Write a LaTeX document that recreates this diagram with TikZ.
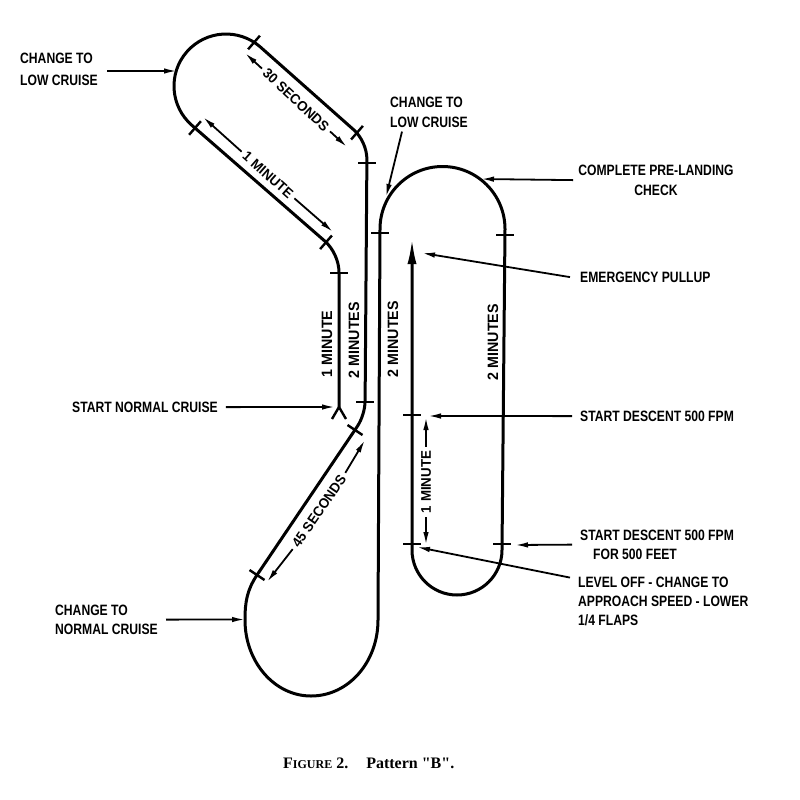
\documentclass[tikz,border=0pt]{standalone}
\usepackage{fontspec}
\setmainfont{Liberation Sans}[FakeStretch=0.81]
\newfontfamily\dimfont{Liberation Sans}[FakeStretch=0.95]
\newfontfamily\capfont{Liberation Serif}
\usetikzlibrary{arrows.meta}
\begin{document}
\begin{tikzpicture}[x=1pt,y=-1pt,
  mainline/.style={line width=3pt, line join=round},
  tickln/.style={line width=2.4pt},
  ptr/.style={line width=1.8pt,-{Latex[length=13pt,width=5.5pt]}},
  dimarr/.style={line width=1.8pt,-{Latex[length=13pt,width=5.5pt]}},
  lbl/.style={inner sep=0pt, align=left, anchor=north west},
  dimlbl/.style={font=\dimfont\bfseries\fontsize{15}{17}\selectfont, inner sep=4pt},
  diaglbl/.style={font=\dimfont\bfseries\fontsize{14}{16}\selectfont, inner sep=4pt},
]
\fill[white] (0,0) rectangle (800,800);
\useasboundingbox (0,0) rectangle (800,800);

% ---------- flight path ----------
\draw[mainline,-{Latex[length=26pt,width=9pt]}]
  (339,407) -- (339,272.5)
  .. controls (339,261.1) and (333.3,248.5) .. (324.7,241)
  -- (191.8,125.2)
  arc[start angle=131.1, end angle=311.1, radius=52]
  -- (353.5,129.6)
  .. controls (361.6,136.8) and (367,148.8) .. (366.9,159.6)
  -- (365.1,401)
  .. controls (365,409.4) and (361.9,419.6) .. (357.2,426.6)
  -- (257,575)
  .. controls (247,590) and (245,602) .. (245,620)
  .. controls (245,662) and (274.5,696) .. (311,696)
  .. controls (348.6,696) and (378,662) .. (378,620)
  -- (380,229) arc[start angle=180, end angle=360, radius=62.5]
  -- (502,550) arc[start angle=0, end angle=180, radius=45]
  -- (412,238);

% start fork
\draw[tickln] (332,419) -- (339,407) -- (346,419);

% ---------- ticks ----------
\draw[tickln] (248.1,49.3) -- (259.9,35.7);
\draw[tickln] (351.1,139.5) -- (362.9,125.9);
\draw[tickln] (358,163) -- (376,163);
\draw[tickln] (189.1,134.8) -- (200.9,121.2);
\draw[tickln] (320.1,249.1) -- (331.9,235.5);
\draw[tickln] (330,273) -- (348,273);
\draw[tickln] (356,402) -- (374,402);
\draw[tickln] (347.5,425) -- (362.5,435);
\draw[tickln] (249.5,570) -- (264.5,580);
\draw[tickln] (371,233) -- (389,233);
\draw[tickln] (496,235) -- (514,235);
\draw[tickln] (403,415) -- (421,415);
\draw[tickln] (403,544) -- (421,544);
\draw[tickln] (493,544) -- (511,544);

% ---------- timing dimensions ----------
\node[diaglbl, rotate=-42.7] (d30) at (296,100) {30 SECONDS};
\coordinate (d30a) at (245,53);
\coordinate (d30b) at (347,147);
\draw[dimarr] (d30.west) -- (d30a);
\draw[dimarr] (d30.east) -- (d30b);

\node[diaglbl, rotate=-41.5] (d1m) at (268,175) {1 MINUTE};
\coordinate (d1ma) at (203,117);
\coordinate (d1mb) at (333,232);
\draw[dimarr] (d1m.west) -- (d1ma);
\draw[dimarr] (d1m.east) -- (d1mb);

\node[diaglbl, rotate=55.4] (d45) at (319,511) {45 SECONDS};
\coordinate (d45a) at (267,582);
\coordinate (d45b) at (365,440);
\draw[dimarr] (d45.west) -- (d45a);
\draw[dimarr] (d45.east) -- (d45b);

\node[diaglbl, rotate=90] (dv1) at (426,482) {1 MINUTE};
\coordinate (dv1a) at (426,545);
\coordinate (dv1b) at (426,417);
\draw[dimarr] (dv1.west) -- (dv1a);
\draw[dimarr] (dv1.east) -- (dv1b);

\node[dimlbl, rotate=90] (v1) at (327,344) {1 MINUTE};
\node[dimlbl, rotate=90] (v2) at (354,340) {2 MINUTES};
\node[dimlbl, rotate=90] (v3) at (393,339) {2 MINUTES};
\node[dimlbl, rotate=90] (v4) at (493,342) {2 MINUTES};

% ---------- call-outs ----------
\node[lbl, font=\bfseries\fontsize{15}{22}\selectfont] (l1) at (20,52.6) {CHANGE TO\\LOW CRUISE};
\coordinate (t1) at (177,71);
\draw[ptr] ([xshift=9pt]l1.east |- t1) -- (t1);

\node[lbl, font=\bfseries\fontsize{15}{20}\selectfont] (l2) at (390,96.6) {CHANGE TO\\LOW CRUISE};
\coordinate (t2) at (386,197);
\draw[ptr] ([xshift=12pt,yshift=-4pt]l2.south west) -- (t2);

\node[lbl, anchor=north, align=center, font=\bfseries\fontsize{15}{20}\selectfont] (l3) at (656,164.6) {COMPLETE PRE-LANDING\\CHECK};
\coordinate (t3) at (481,179);
\draw[ptr] ([xshift=-5pt]l3.west) -- (t3);

\node[lbl, font=\bfseries\fontsize{15}{20}\selectfont] (l4) at (580,271.6) {EMERGENCY PULLUP};
\coordinate (t4) at (422,253);
\draw[ptr] ([xshift=-10pt]l4.west) -- (t4);

\node[lbl, font=\bfseries\fontsize{15}{20}\selectfont] (l5) at (72,401.6) {START NORMAL CRUISE};
\coordinate (t5) at (335,407);
\draw[ptr] ([xshift=8pt]l5.east) -- (t5);

\node[lbl, font=\bfseries\fontsize{15}{20}\selectfont] (l6) at (580,410.6) {START DESCENT 500 FPM};
\coordinate (t6) at (428,416);
\draw[ptr] ([xshift=-8pt]l6.west) -- (t6);

\node[lbl, font=\bfseries\fontsize{15}{19}\selectfont] (l7) at (580,529.6) {START DESCENT 500 FPM\\\hspace*{13pt}FOR 500 FEET};
\coordinate (t7) at (515,545);
\draw[ptr] ([xshift=-8pt]l7.west) -- (t7);

\node[lbl, font=\bfseries\fontsize{15}{19}\selectfont] (l8) at (578,576.6) {LEVEL OFF - CHANGE TO\\APPROACH SPEED - LOWER\\1/4 FLAPS};
\coordinate (t8) at (417,547);
\draw[ptr] ([xshift=-8pt,yshift=-1pt]l8.north west) -- (t8);

\node[lbl, font=\bfseries\fontsize{15}{19}\selectfont] (l9) at (55,604.6) {CHANGE TO\\NORMAL CRUISE};
\coordinate (t9) at (245,619.5);
\draw[ptr] ([xshift=8pt]l9.east) -- (t9);

% ---------- caption ----------
\node[anchor=base west, inner sep=0pt, font=\capfont\bfseries\fontsize{16}{19}\selectfont] (cap) at (283,768)
  {F{\fontsize{12}{13}\selectfont IGURE} 2.\hspace{18pt}Pattern "B".};
\end{tikzpicture}
\end{document}
